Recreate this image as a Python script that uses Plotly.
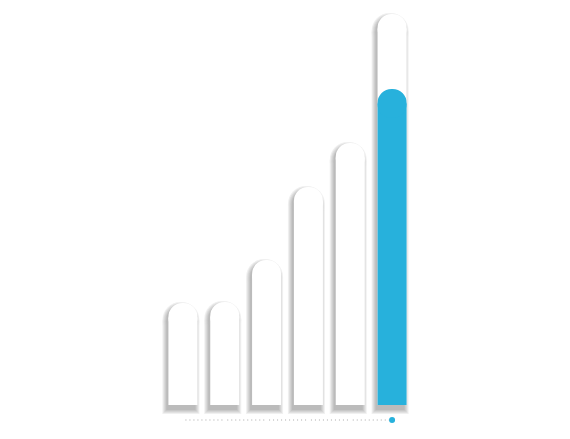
import plotly.graph_objects as go

# ---- data ----
categories = ["1", "2", "3", "4", "5", "6"]
values = [102, 103, 145, 218, 262, 391]
highlight_value = 316          # blue bar inside the last column
baseline_y = -15               # dotted guide line level

positions = list(range(len(categories)))

PX = 1 / 41.83                 # one pixel in x data units (y axis is 1 unit per px)
BAR_W = 29                     # bar width in px
R = BAR_W / 2
BLUE = "#27b1dc"

fig = go.Figure()


def rounded_column(xs, tops, bottom, width_px, shift_px, radius, color):
    """A column with a rounded top: a square-bottomed body plus a rounded cap."""
    n = len(xs)
    common = dict(x=xs, width=width_px * PX, offset=(-width_px / 2 + shift_px) * PX,
                  hoverinfo="skip", showlegend=False)
    fig.add_trace(go.Bar(
        y=[t - radius - bottom for t in tops], base=[bottom] * n,
        marker=dict(color=color, line=dict(width=0)), **common))
    fig.add_trace(go.Bar(
        y=[2 * radius] * n, base=[t - 2 * radius for t in tops],
        marker=dict(color=color, cornerradius=radius, line=dict(width=0)), **common))


# soft drop shadow from opaque grey layers (outermost / lightest first)
ALPHA = 0.06
LAYERS = 5
DX, DY = -2, -5
for e in range(LAYERS - 1, -1, -1):
    dark = 1 - (1 - ALPHA) ** (LAYERS - e)
    g = round(255 * (1 - dark))
    rounded_column(positions, [v + DY + 2 + e for v in values], DY - e,
                   BAR_W + 2 * e, DX, R + e, f"rgb({g},{g},{g})")

# white columns
rounded_column(positions, values, 0, BAR_W, 0, R, "white")

# highlighted column
rounded_column([positions[-1]], [highlight_value], 0, BAR_W, 0, R, BLUE)

# dotted guide line between column centres
lx, ly = [], []
for i in positions[:-1]:
    lx += [i + 0.06, i + 0.96, None]
    ly += [baseline_y, baseline_y, None]
fig.add_trace(go.Scatter(
    x=lx, y=ly, mode="lines",
    line=dict(color="#a8a8a8", width=1, dash="1px,3px"),
    hoverinfo="skip", showlegend=False,
))
fig.add_trace(go.Scatter(
    x=[positions[-1]], y=[baseline_y], mode="markers",
    marker=dict(color=BLUE, size=6),
    showlegend=False,
))

fig.update_layout(
    width=570, height=439,
    margin=dict(l=154, r=165, t=0, b=22),
    barmode="overlay",
    paper_bgcolor="white",
    plot_bgcolor="white",
    xaxis=dict(range=[-0.5, 5.5], visible=False, fixedrange=True),
    yaxis=dict(range=[-20, 397], visible=False, fixedrange=True),
)

fig.write_html("out.html")
